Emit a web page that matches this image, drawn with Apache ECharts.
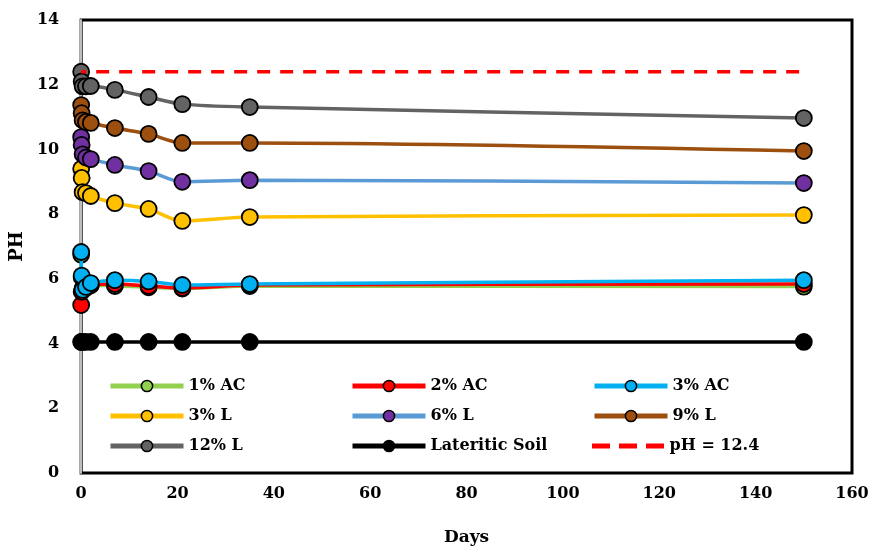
<!DOCTYPE html>
<html>
<head>
<meta charset="utf-8">
<script src="https://cdn.jsdelivr.net/npm/echarts@6/dist/echarts.min.js"></script>
<style>html,body{margin:0;padding:0;background:#fff}#c{width:872px;height:552px}</style>
</head>
<body>
<div id="c"></div>
<script>
var days = [0, 0.1, 0.3, 1, 2, 7, 14, 21, 35, 150];
var ac1 = [6.75, 6.05, 5.7, 5.72, 5.8, 5.78, 5.74, 5.7, 5.78, 5.76];
var ac2 = [5.19, 5.6, 5.68, 5.74, 5.82, 5.84, 5.78, 5.72, 5.81, 5.84];
var ac3 = [6.83, 6.1, 5.66, 5.75, 5.87, 5.96, 5.92, 5.81, 5.84, 5.96];
var l3 = [9.4, 9.12, 8.68, 8.65, 8.56, 8.34, 8.16, 7.79, 7.91, 7.97];
var l6 = [10.38, 10.14, 9.85, 9.75, 9.7, 9.52, 9.33, 9.0, 9.05, 8.96];
var l9 = [11.37, 11.12, 10.9, 10.85, 10.82, 10.66, 10.48, 10.2, 10.2, 9.95];
var l12 = [12.4, 12.1, 11.95, 11.95, 11.96, 11.84, 11.62, 11.4, 11.31, 10.97];
var soil = [4.05, 4.05, 4.05, 4.05, 4.05, 4.05, 4.05, 4.05, 4.05, 4.05];
var refDays = [0, 150];
var refPH = [12.4, 12.4];
var xTicks = [0, 20, 40, 60, 80, 100, 120, 140, 160];
var yTicks = [0, 2, 4, 6, 8, 10, 12, 14];

var font = 'DejaVu Serif';
function pairs(xs, ys) { return xs.map(function (x, i) { return [x, ys[i]]; }); }
function ser(name, data, lineColor, fillColor, z) {
  return {
    name: name, type: 'line', data: pairs(days, data), z: z,
    symbol: 'circle', symbolSize: 16, smooth: 0.3,
    lineStyle: { color: lineColor, width: 3.5 },
    itemStyle: { color: fillColor, borderColor: '#000', borderWidth: 1.8 },
    emphasis: { disabled: true }
  };
}
var series = [
  ser('1% AC', ac1, '#92d050', '#92d050', 2),
  ser('2% AC', ac2, '#ff0000', '#ff0000', 3),
  ser('3% AC', ac3, '#00b0f0', '#00b0f0', 4),
  ser('3% L', l3, '#ffc000', '#ffc000', 5),
  ser('6% L', l6, '#5b9bd5', '#7030a0', 6),
  ser('9% L', l9, '#9c4f0e', '#9c4f0e', 7),
  ser('12% L', l12, '#636363', '#636363', 8),
  ser('Lateritic Soil', soil, '#000000', '#000000', 9),
  {
    name: 'pH = 12.4', type: 'line', data: pairs(refDays, refPH), z: 10,
    symbol: 'none', lineStyle: { color: '#ff0000', width: 3.5, type: [13, 10], dashOffset: 8 },
    itemStyle: { color: '#ff0000' }, emphasis: { disabled: true }
  }
];
var textStyle = { fontFamily: font, fontWeight: 'bold', fontSize: 16, color: '#000' };
function leg(left, top, names) {
  return {
    left: left, top: top, orient: 'vertical', data: names,
    itemWidth: 73, itemHeight: 14, itemGap: 14,
    lineStyle: { width: 5 },
    itemStyle: { borderColor: '#000', borderWidth: 1.5 },
    textStyle: textStyle,
    selectedMode: false
  };
}
var chart = echarts.init(document.getElementById('c'), null, { renderer: 'canvas' });
chart.setOption({
  animation: false,
  backgroundColor: '#fff',
  grid: { left: 79, right: 20, top: 20, bottom: 79, show: true, borderColor: '#000', borderWidth: 3, backgroundColor: 'transparent' },
  legend: [
    leg(103, 373, ['1% AC', '3% L', '12% L']),
    leg(345, 373, ['2% AC', '6% L', 'Lateritic Soil']),
    leg(587, 373, ['3% AC', '9% L']),
    {
      left: 587, top: 433, orient: 'vertical',
      data: [{ name: 'pH = 12.4', icon: 'path://M0,0h18v5h-18z M27,0h18v5h-18z M54,0h18v5h-18z' }],
      itemWidth: 73, itemHeight: 5, itemStyle: { color: '#ff0000', borderWidth: 0 },
      textStyle: textStyle, selectedMode: false
    }
  ],
  xAxis: {
    type: 'value', min: xTicks[0], max: xTicks[xTicks.length - 1], interval: 20,
    name: 'Days', nameLocation: 'middle', nameGap: 56,
    nameTextStyle: { fontFamily: font, fontWeight: 'bold', fontSize: 17, color: '#000' },
    axisLine: { show: false }, axisTick: { show: false }, splitLine: { show: false },
    axisLabel: { fontFamily: font, fontWeight: 'bold', fontSize: 16, color: '#000', margin: 13 }
  },
  yAxis: {
    type: 'value', min: yTicks[0], max: yTicks[yTicks.length - 1], interval: 2,
    name: 'PH', nameLocation: 'middle', nameGap: 43,
    nameTextStyle: { fontFamily: font, fontWeight: 'bold', fontSize: 18, color: '#000' },
    axisLine: { show: true, lineStyle: { color: '#bdbdbd', width: 2 } }, axisTick: { show: false }, splitLine: { show: false },
    axisLabel: { fontFamily: font, fontWeight: 'bold', fontSize: 16, color: '#000', margin: 22 }
  },
  series: series
});
</script>
</body>
</html>
